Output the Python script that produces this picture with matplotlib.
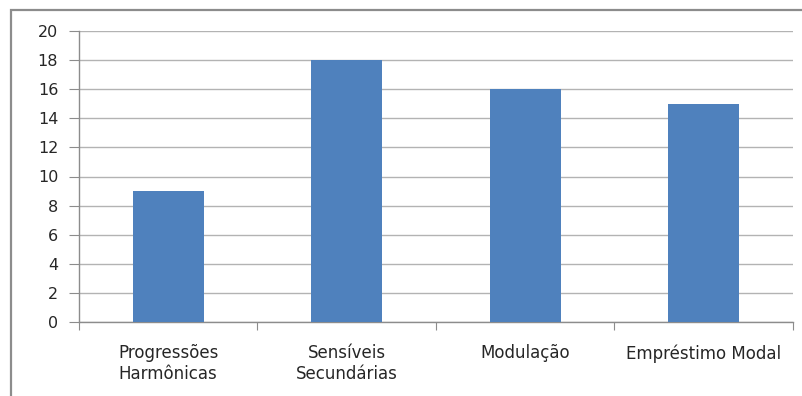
import matplotlib.pyplot as plt
from matplotlib.patches import Rectangle

categories = ["Progressões\nHarmônicas", "Sensíveis\nSecundárias", "Modulação", "Empréstimo Modal"]
values = [9, 18, 16, 15]
yticks = [0, 2, 4, 6, 8, 10, 12, 14, 16, 18, 20]

fig = plt.figure(figsize=(8.03, 3.96), dpi=100)
ax = fig.add_axes([79/803, 1-322/396, (793-79)/803, (322-31)/396])

# outer chart frame, cut off at right and bottom like the picture
fig.patches.append(Rectangle((11/803, -0.1), 1.2, 1-10/396+0.1, transform=fig.transFigure,
                             fill=False, edgecolor="#8c8c8c", lw=1.6))

x = range(len(categories))
ax.bar(x, values, width=0.4, color="#4F81BD", zorder=3)

ax.set_xlim(-0.5, len(categories)-0.5)
ax.set_ylim(0, 20)
ax.set_yticks(yticks)
ax.yaxis.grid(True, color="#b3b3b3", lw=1)
ax.set_axisbelow(True)

for s in ["top", "right"]:
    ax.spines[s].set_visible(False)
for s in ["left", "bottom"]:
    ax.spines[s].set_color("#8c8c8c")
    ax.spines[s].set_linewidth(1)

ax.set_xticks([i-0.5 for i in range(len(categories)+1)], minor=False)
ax.set_xticklabels([])
ax.set_xticks(list(x), minor=True)
labels = ax.set_xticklabels(categories, minor=True, fontsize=12, color="#262626")
for t in labels:
    t.set_linespacing(1.2)
ax.tick_params(axis="x", which="major", length=6, color="#8c8c8c")
ax.tick_params(axis="x", which="minor", length=0, pad=16)
ax.tick_params(axis="y", length=7, color="#8c8c8c", labelsize=11.5, labelcolor="#262626", pad=8)

fig.savefig("out.png", dpi=100)
